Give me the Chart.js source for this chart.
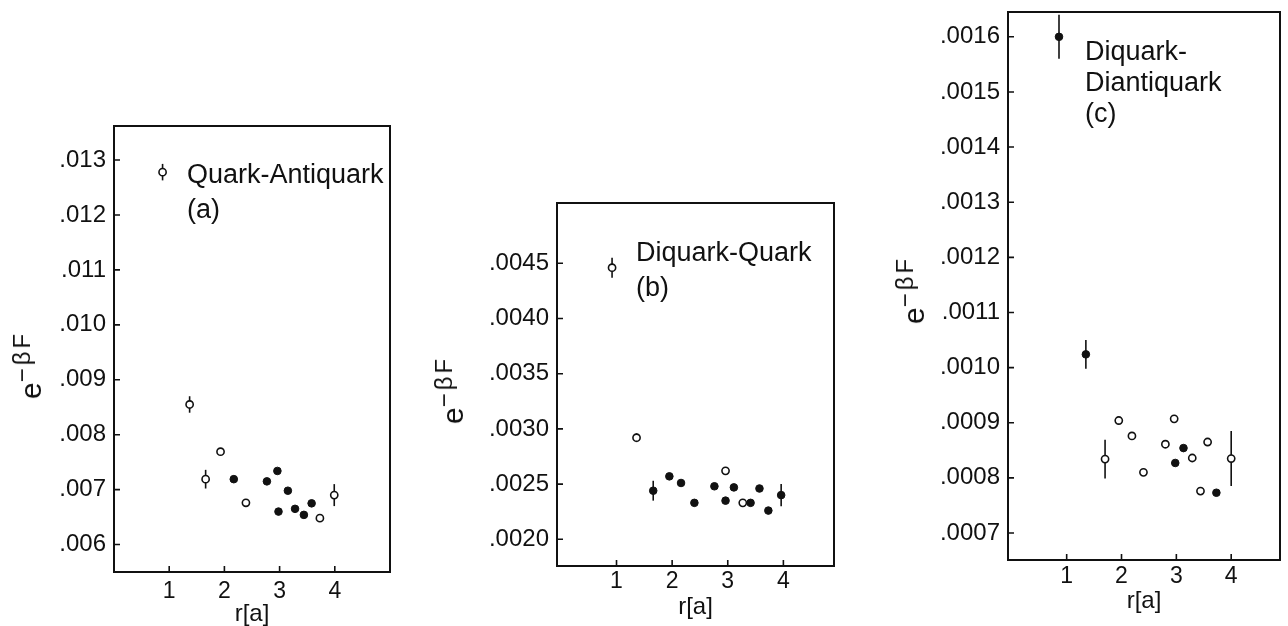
<!DOCTYPE html>
<html>
<head>
<meta charset="utf-8">
<title>e^-βF vs r</title>
<script src="https://cdn.jsdelivr.net/npm/chart.js@4.4.0/dist/chart.umd.min.js"></script>
<style>
body{margin:0;background:#fff;width:1288px;height:626px;position:relative;overflow:hidden;font-family:"Liberation Sans",Arial,sans-serif;color:#111}
canvas{position:absolute}
.note{position:absolute;font-size:27px;line-height:35px;white-space:nowrap}
.ytitle{position:absolute;font-size:30px;line-height:30px;white-space:nowrap;transform:translate(-50%,-50%) rotate(-90deg)}
.ytitle span{font-size:24px;letter-spacing:3px;position:relative;top:-0.45em}
</style>
</head>
<body>
<canvas id="chartA" width="410" height="526" style="left:0;top:100px"></canvas>
<canvas id="chartB" width="410" height="446" style="left:440px;top:180px"></canvas>
<canvas id="chartC" width="408" height="626" style="left:880px;top:0"></canvas>

<div class="ytitle" style="left:32px;top:365px">e<span>−βF</span></div>
<div class="ytitle" style="left:454px;top:390px">e<span>−βF</span></div>
<div class="ytitle" style="left:915px;top:290px">e<span>−βF</span></div>

<div class="note" style="left:187px;top:157px">Quark-Antiquark<br>(a)</div>
<div class="note" style="left:636px;top:235px">Diquark-Quark<br>(b)</div>
<div class="note" style="left:1085px;top:36px;line-height:31px">Diquark-<br>Diantiquark<br>(c)</div>

<script>
// Daten
const xTicks = [1, 2, 3, 4];

// (a) Quark-Antiquark
const rA    = [0.88, 1.37, 1.66, 1.93, 2.17, 2.39, 2.77, 2.96, 2.98, 3.15, 3.28, 3.44, 3.58, 3.73, 3.99];
const valA  = [.01278, .00855, .00719, .00769, .00719, .00676, .00715, .00734, .00660, .00698, .00665, .00654, .00675, .00648, .00690];
const errA  = [.00015, .00015, .00017, 0, 0, 0, 0, 0, 0, 0, 0, 0, 0, 0, .0002];
const kindA = ['o','o','o','o','f','o','f','f','f','f','f','f','f','o','o'];
const yTicksA = [.006, .007, .008, .009, .010, .011, .012, .013];

// (b) Diquark-Quark
const rB    = [0.92, 1.36, 1.66, 1.95, 2.16, 2.40, 2.76, 2.96, 2.96, 3.11, 3.27, 3.41, 3.57, 3.73, 3.96];
const valB  = [.00446, .00292, .00244, .00257, .00251, .00233, .00248, .00262, .00235, .00247, .00233, .00233, .00246, .00226, .00240];
const errB  = [.00009, .00004, .00009, 0, 0, 0, 0, 0, 0, 0, 0, 0, 0, 0, .0001];
const kindB = ['o','o','f','f','f','f','f','o','f','f','o','f','f','f','f'];
const yTicksB = [.0020, .0025, .0030, .0035, .0040, .0045];

// (c) Diquark-Diantiquark
const rC    = [0.86, 1.35, 1.70, 1.95, 2.19, 2.40, 2.80, 2.96, 2.98, 3.13, 3.29, 3.44, 3.57, 3.73, 4.00];
const valC  = [.00160, .001024, .000834, .000904, .000876, .000810, .000861, .000907, .000827, .000854, .000836, .000776, .000865, .000773, .000835];
const errC  = [.00004, .000026, .000035, 0, 0, 0, 0, 0, 0, 0, 0, 0, 0, 0, .00005];
const kindC = ['f','f','o','o','o','o','o','o','f','f','o','o','o','f','o'];
const yTicksC = [.0007, .0008, .0009, .0010, .0011, .0012, .0013, .0014, .0015, .0016];

const FONT = '"Liberation Sans", Arial, sans-serif';
const INK = '#111';

// Rahmen, Ticks nach innen, Fehlerbalken
function framePlugin(r, val, err){
  return {
    id:'frame',
    beforeDatasetsDraw(chart){
      const {ctx, scales:{x, y}} = chart;
      ctx.save(); ctx.strokeStyle = INK; ctx.lineWidth = 1.6;
      r.forEach((rv, i) => {
        if(!err[i]) return;
        const px = x.getPixelForValue(rv);
        ctx.beginPath();
        ctx.moveTo(px, y.getPixelForValue(val[i] - err[i]));
        ctx.lineTo(px, y.getPixelForValue(val[i] + err[i]));
        ctx.stroke();
      });
      ctx.restore();
    },
    afterDraw(chart){
      const {ctx, chartArea:a, scales:{x, y}} = chart;
      ctx.save(); ctx.strokeStyle = INK; ctx.lineWidth = 2;
      ctx.strokeRect(a.left, a.top, a.right - a.left, a.bottom - a.top);
      ctx.lineWidth = 1.6; ctx.beginPath();
      x.ticks.forEach(t => { const px = x.getPixelForValue(t.value); ctx.moveTo(px, a.bottom); ctx.lineTo(px, a.bottom - 6); });
      y.ticks.forEach(t => { const py = y.getPixelForValue(t.value); ctx.moveTo(a.left, py); ctx.lineTo(a.left + 6, py); });
      ctx.stroke(); ctx.restore();
    }
  };
}

function pts(r, val, kind, k){
  const out = [];
  r.forEach((rv, i) => { if(kind[i] === k) out.push({x: rv, y: val[i]}); });
  return out;
}

function makePanel(id, r, val, err, kind, yTicks, o){
  new Chart(document.getElementById(id), {
    type: 'scatter',
    data: { datasets: [
      {data: pts(r, val, kind, 'o'), pointRadius: 3.6, pointBackgroundColor: '#fff', pointBorderColor: INK, pointBorderWidth: 1.6},
      {data: pts(r, val, kind, 'f'), pointRadius: 3.8, pointBackgroundColor: INK, pointBorderColor: INK, pointBorderWidth: 1}
    ]},
    options: {
      responsive: false, animation: false,
      layout: {padding: {top: o.padTop, right: o.padRight, left: 0, bottom: 0}},
      plugins: {legend: {display: false}, tooltip: {enabled: false}},
      scales: {
        x: {
          type: 'linear', min: o.xMin, max: o.xMax,
          grid: {display: false, drawTicks: false}, border: {display: false},
          afterBuildTicks: s => { s.ticks = xTicks.map(v => ({value: v})); },
          afterFit: s => { s.height = o.xH; },
          ticks: {color: INK, font: {family: FONT, size: 23}, padding: o.xPad, maxRotation: 0},
          title: {display: true, text: 'r[a]', color: INK, font: {family: FONT, size: 24, lineHeight: 1}, padding: {top: 0, bottom: o.titlePad}}
        },
        y: {
          type: 'linear', min: o.yMin, max: o.yMax,
          grid: {display: false, drawTicks: false}, border: {display: false},
          afterBuildTicks: s => { s.ticks = yTicks.map(v => ({value: v})); },
          // keine automatische Randreserve fuer die Labels
          afterFit: s => { s.width = o.yW; s.paddingTop = 0; s.paddingBottom = 0; },
          ticks: {color: INK, font: {family: FONT, size: 24}, padding: 8,
                  callback: v => v.toFixed(o.digits).replace(/^0/, '')}
        }
      }
    },
    plugins: [framePlugin(r, val, err)]
  });
}

makePanel('chartA', rA, valA, errA, kindA, yTicksA,
  {xMin: 0, xMax: 5, yMin: .0055, yMax: .01362, yW: 114, xH: 54, padTop: 26, padRight: 20, xPad: 6, titlePad: 0, digits: 3});
makePanel('chartB', rB, valB, errB, kindB, yTicksB,
  {xMin: -0.07, xMax: 4.91, yMin: .001758, yMax: .005046, yW: 117, xH: 60, padTop: 23, padRight: 16, xPad: 2, titlePad: 7, digits: 4});
makePanel('chartC', rC, valC, errC, kindC, yTicksC,
  {xMin: -0.07, xMax: 4.89, yMin: .000651, yMax: .001645, yW: 128, xH: 66, padTop: 12, padRight: 8, xPad: 3, titlePad: 13, digits: 4});
</script>
</body>
</html>
